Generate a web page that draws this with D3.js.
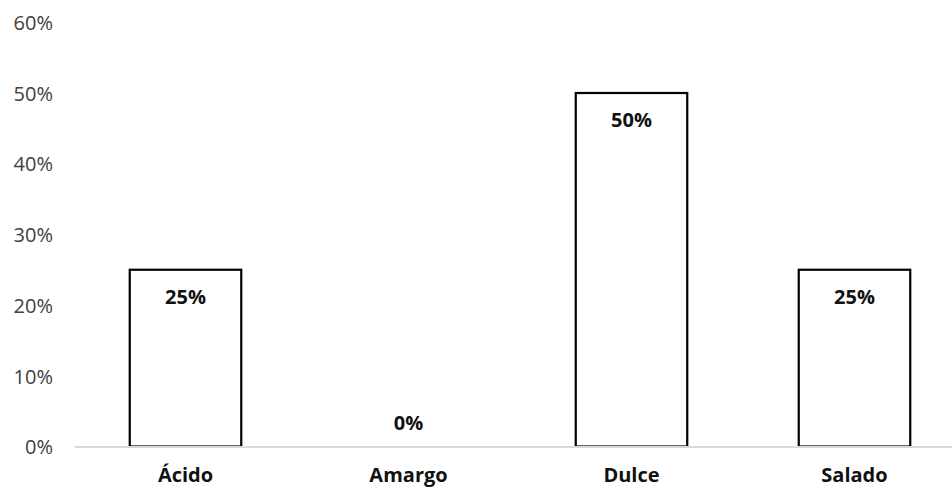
<!DOCTYPE html>
<html>
<head>
<meta charset="utf-8">
<script src="https://cdn.jsdelivr.net/npm/d3@7"></script>
<style>
  html, body { margin: 0; padding: 0; background: #fff; }
  svg { display: block; }
  text { font-family: "Open Sans", "Noto Sans", sans-serif; }
</style>
</head>
<body>
<div id="chart"></div>
<script>
// Taste preference shares
const categories = ["Ácido", "Amargo", "Dulce", "Salado"];
const values = [25, 0, 50, 25];
const yTicks = [0, 10, 20, 30, 40, 50, 60];

const W = 952, H = 489;

const svg = d3.select("#chart").append("svg")
  .attr("width", W).attr("height", H);

const x = d3.scaleBand()
  .domain(categories)
  .range([74, 966])
  .paddingInner(0.5)
  .paddingOuter(0.25);

const y = d3.scaleLinear()
  .domain([0, 60])
  .range([446.5, 22.3]);

const data = categories.map((c, i) => ({ cat: c, val: values[i] }));

// Y tick labels
const yAxis = d3.axisLeft(y)
  .tickValues(yTicks)
  .tickFormat(d => d + "%")
  .tickSize(0)
  .tickPadding(0);

const gy = svg.append("g")
  .attr("transform", "translate(53,0)")
  .call(yAxis);
gy.select(".domain").remove();
gy.selectAll("text")
  .attr("font-size", 20)
  .attr("fill", "#404040")
  .attr("dy", "0.36em")
  .style("font-family", "'Open Sans', sans-serif");

// Bars (outlined, white fill)
svg.append("g").selectAll("rect")
  .data(data.filter(d => d.val > 0))
  .join("rect")
  .attr("x", d => x(d.cat))
  .attr("y", d => y(d.val))
  .attr("width", x.bandwidth())
  .attr("height", d => y(0) - y(d.val))
  .attr("fill", "#fff")
  .attr("stroke", "#000")
  .attr("stroke-width", 2.2);

// Baseline (category axis)
const xAxis = d3.axisBottom(x).tickSize(0).tickPadding(0);
const gx = svg.append("g")
  .attr("transform", `translate(0,${y(0)})`)
  .call(xAxis);
gx.select(".domain")
  .attr("stroke", "#d9d9d9")
  .attr("stroke-width", 2);
gx.selectAll("text")
  .attr("y", 35.5)
  .attr("dy", 0)
  .attr("font-size", 20)
  .attr("font-weight", "bold")
  .attr("fill", "#111")
  .style("font-family", "'Open Sans', sans-serif");

// Value labels: inside the top of the bar, or above the baseline for zero
svg.append("g").selectAll("text")
  .data(data)
  .join("text")
  .attr("x", d => x(d.cat) + x.bandwidth() / 2)
  .attr("y", d => d.val > 0 ? y(d.val) + 34 : y(0) - 16.5)
  .attr("text-anchor", "middle")
  .attr("font-size", 20)
  .attr("font-weight", "bold")
  .attr("fill", "#111")
  .text(d => d.val + "%");
</script>
</body>
</html>
